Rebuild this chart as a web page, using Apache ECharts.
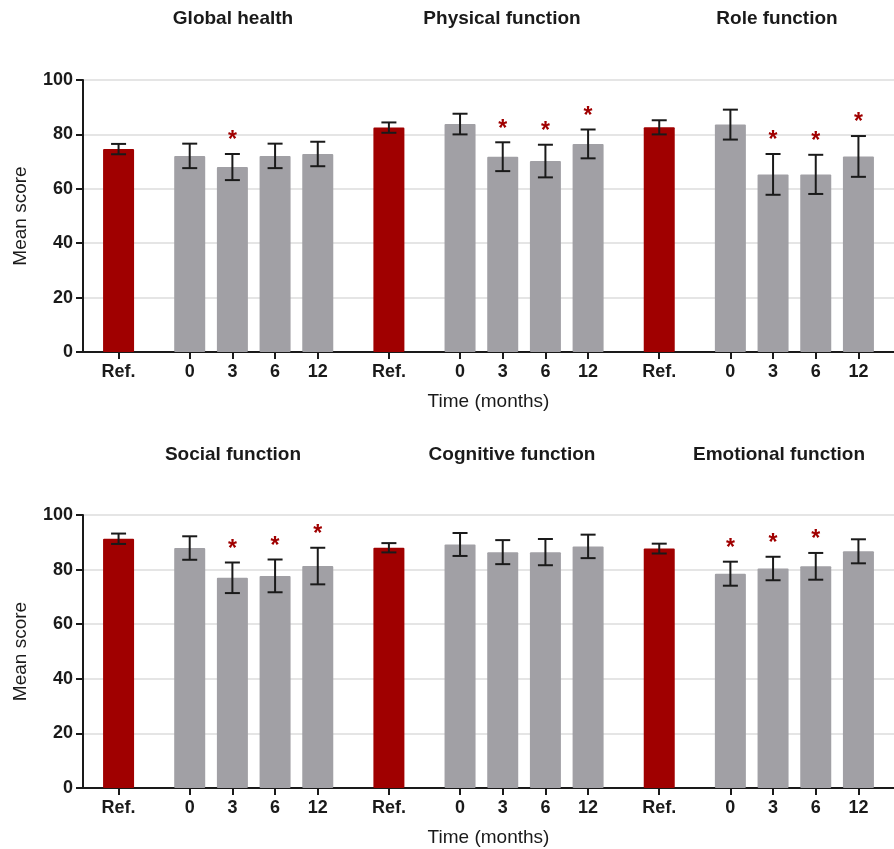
<!DOCTYPE html>
<html>
<head>
<meta charset="utf-8">
<title>Mean scores over time</title>
<script src="https://cdn.jsdelivr.net/npm/echarts@6/dist/echarts.min.js"></script>
<style>
  html, body { margin: 0; padding: 0; background: #ffffff; }
  #chart { width: 894px; height: 849px; }
</style>
</head>
<body>
<div id="chart"></div>
<script>
// Time points shown under each group of bars
const timepoints = ['Ref.', '0', '3', '6', '12'];

// Upper row of panels
const topGroups = ['Global health', 'Physical function', 'Role function'];
const globalMean   = [74.6, 72.1, 68.0, 72.1, 72.8];
const globalErr    = [1.9, 4.5, 4.8, 4.5, 4.5];
const globalSig    = [false, false, true, false, false];
const physicalMean = [82.5, 83.8, 71.8, 70.2, 76.5];
const physicalErr  = [1.9, 3.8, 5.3, 6.0, 5.3];
const physicalSig  = [false, false, true, true, true];
const roleMean     = [82.6, 83.6, 65.3, 65.3, 71.9];
const roleErr      = [2.6, 5.5, 7.5, 7.2, 7.5];
const roleSig      = [false, false, true, true, true];

// Lower row of panels
const bottomGroups = ['Social function', 'Cognitive function', 'Emotional function'];
const socialMean    = [91.3, 87.9, 77.0, 77.7, 81.3];
const socialErr     = [1.9, 4.3, 5.6, 6.0, 6.7];
const socialSig     = [false, false, true, true, true];
const cognitiveMean = [88.0, 89.2, 86.4, 86.4, 88.5];
const cognitiveErr  = [1.7, 4.2, 4.4, 4.8, 4.3];
const cognitiveSig  = [false, false, false, false, false];
const emotionalMean = [87.7, 78.5, 80.4, 81.2, 86.7];
const emotionalErr  = [1.8, 4.4, 4.3, 4.9, 4.4];
const emotionalSig  = [false, true, true, true, false];

const yTicks = [0, 20, 40, 60, 80, 100];

// Slot layout on the category axis: a wide gap after the reference bar and between groups
const slotOffset = [0, 5, 8, 11, 14];
const groupStride = 19;
const leadSlots = 2;
const slotCount = 57;

const RED = '#a00000';
const GREY = '#a1a0a5';
const FONT = '"Liberation Sans", Arial, Helvetica, sans-serif';

function buildPanel(means, errs, sigs) {
  const categories = [];
  const labels = [];
  for (let i = 0; i < slotCount; i++) { categories.push('s' + i); labels.push(''); }
  const bars = new Array(slotCount).fill('-');
  const errData = [];
  const starData = [];
  means.forEach(function (m, g) {
    m.forEach(function (v, k) {
      const idx = leadSlots + g * groupStride + slotOffset[k];
      labels[idx] = timepoints[k];
      bars[idx] = { value: v, itemStyle: { color: k === 0 ? RED : GREY } };
      errData.push([idx, v, errs[g][k]]);
      if (sigs[g][k]) starData.push([idx, v + errs[g][k]]);
    });
  });
  return { categories, labels, bars, errData, starData };
}

const topPanel = buildPanel(
  [globalMean, physicalMean, roleMean],
  [globalErr, physicalErr, roleErr],
  [globalSig, physicalSig, roleSig]
);
const bottomPanel = buildPanel(
  [socialMean, cognitiveMean, emotionalMean],
  [socialErr, cognitiveErr, emotionalErr],
  [socialSig, cognitiveSig, emotionalSig]
);

const chart = echarts.init(document.getElementById('chart'), null, { renderer: 'canvas' });

function xAxisFor(panel, gridIndex) {
  return {
    type: 'category',
    gridIndex: gridIndex,
    data: panel.categories,
    boundaryGap: true,
    name: 'Time (months)',
    nameLocation: 'middle',
    nameGap: 40,
    nameTextStyle: { fontFamily: FONT, fontSize: 19, color: '#1a1a1a' },
    axisLine: { show: true, lineStyle: { color: '#1a1a1a', width: 2 } },
    axisTick: {
      show: true, alignWithLabel: true, length: 7,
      interval: function (i) { return panel.labels[i] !== ''; },
      lineStyle: { color: '#1a1a1a', width: 2 }
    },
    axisLabel: {
      interval: function (i) { return panel.labels[i] !== ''; },
      formatter: function (v, i) { return panel.labels[i]; },
      margin: 11,
      fontFamily: FONT, fontSize: 18, fontWeight: 'bold', color: '#1a1a1a'
    },
    splitLine: { show: false }
  };
}

function yAxisFor(gridIndex) {
  return {
    type: 'value',
    gridIndex: gridIndex,
    min: yTicks[0],
    max: yTicks[yTicks.length - 1],
    interval: yTicks[1] - yTicks[0],
    name: 'Mean score',
    nameLocation: 'middle',
    nameGap: 53,
    nameTextStyle: { fontFamily: FONT, fontSize: 19, color: '#1a1a1a' },
    axisLine: { show: true, lineStyle: { color: '#1a1a1a', width: 2 } },
    axisTick: { show: true, length: 7, lineStyle: { color: '#1a1a1a', width: 2 } },
    axisLabel: { margin: 10, fontFamily: FONT, fontSize: 18, fontWeight: 'bold', color: '#1a1a1a' },
    splitLine: { show: true, lineStyle: { color: '#dcdcdc', width: 1.5 } }
  };
}

function errorBarItem(params, api) {
  const x = api.value(0), m = api.value(1), e = api.value(2);
  const hi = api.coord([x, m + e]);
  const lo = api.coord([x, m - e]);
  const cap = 7.5;
  const style = { stroke: '#1a1a1a', lineWidth: 2 };
  return {
    type: 'group',
    children: [
      { type: 'line', shape: { x1: hi[0], y1: hi[1], x2: lo[0], y2: lo[1] }, style: style },
      { type: 'line', shape: { x1: hi[0] - cap, y1: hi[1], x2: hi[0] + cap, y2: hi[1] }, style: style },
      { type: 'line', shape: { x1: lo[0] - cap, y1: lo[1], x2: lo[0] + cap, y2: lo[1] }, style: style }
    ]
  };
}

function starItem(params, api) {
  const p = api.coord([api.value(0), api.value(1)]);
  return {
    type: 'text',
    x: p[0],
    y: p[1] - 13,
    style: {
      text: '*', align: 'center', verticalAlign: 'middle',
      textAlign: 'center', textVerticalAlign: 'middle',
      fill: RED, font: 'bold 23px ' + FONT
    }
  };
}

function seriesFor(panel, idx) {
  return [
    {
      type: 'bar', xAxisIndex: idx, yAxisIndex: idx,
      data: panel.bars, barWidth: 31, silent: true,
      itemStyle: { borderRadius: 1 }
    },
    {
      type: 'custom', xAxisIndex: idx, yAxisIndex: idx,
      data: panel.errData, renderItem: errorBarItem, silent: true, z: 3
    },
    {
      type: 'custom', xAxisIndex: idx, yAxisIndex: idx,
      data: panel.starData, renderItem: starItem, silent: true, z: 4
    }
  ];
}

// Panel titles, centred above each group
const titleX = [233, 502, 777];
const titleXBottom = [233, 512, 779];
const graphics = [];
topGroups.forEach(function (t, i) {
  graphics.push({ type: 'text', x: titleX[i], y: 19, silent: true,
    style: { text: t, align: 'center', verticalAlign: 'middle', fill: '#1a1a1a', font: 'bold 19px ' + FONT } });
});
bottomGroups.forEach(function (t, i) {
  graphics.push({ type: 'text', x: titleXBottom[i], y: 455, silent: true,
    style: { text: t, align: 'center', verticalAlign: 'middle', fill: '#1a1a1a', font: 'bold 19px ' + FONT } });
});

chart.setOption({
  animation: false,
  backgroundColor: '#ffffff',
  grid: [
    { left: 83, top: 80, width: 816, height: 272 },
    { left: 83, top: 515, width: 816, height: 273 }
  ],
  xAxis: [xAxisFor(topPanel, 0), xAxisFor(bottomPanel, 1)],
  yAxis: [yAxisFor(0), yAxisFor(1)],
  series: seriesFor(topPanel, 0).concat(seriesFor(bottomPanel, 1)),
  graphic: graphics
});
</script>
</body>
</html>
